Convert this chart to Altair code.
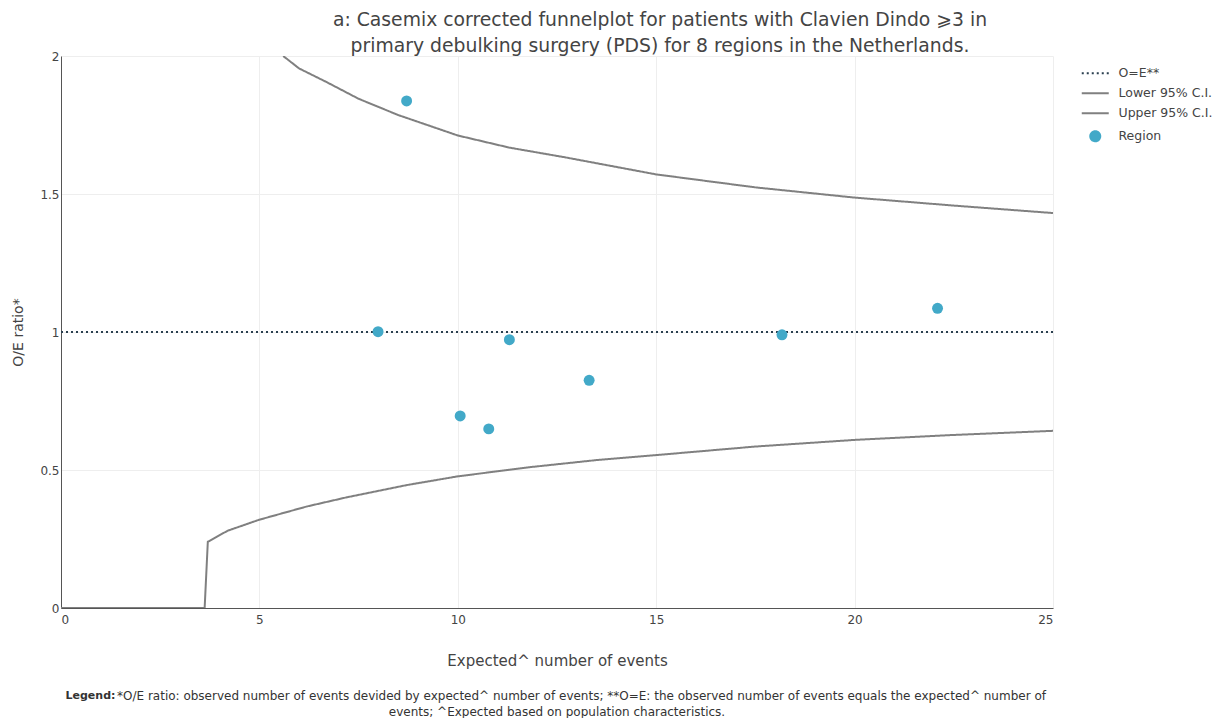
import altair as alt
import pandas as pd

# ---- data ----
series_names = ["O=E**", "Lower 95% C.I.", "Upper 95% C.I.", "Region"]

ref_x = [0.0, 25.0]
ref_y = [1.0, 1.0]

lower_x = [0.0, 3.62, 3.7, 4.2, 5.0, 6.2, 7.2, 8.7, 10.0, 11.8, 13.5, 15.0, 17.5, 20.0, 22.5, 25.0]
lower_y = [0.0, 0.0, 0.24, 0.28, 0.32, 0.368, 0.401, 0.445, 0.477, 0.51, 0.536, 0.554, 0.585, 0.609, 0.627, 0.642]

upper_x = [5.6, 6.0, 6.7, 7.5, 8.5, 10.0, 11.3, 12.7, 15.0, 17.5, 20.0, 22.5, 25.0]
upper_y = [2.0, 1.955, 1.905, 1.845, 1.786, 1.712, 1.668, 1.633, 1.571, 1.524, 1.487, 1.458, 1.431]

region_x = [7.99, 8.71, 10.06, 10.78, 11.30, 13.31, 18.17, 22.09]
region_y = [1.001, 1.837, 0.696, 0.649, 0.972, 0.825, 0.990, 1.086]

x_ticks = [0, 5, 10, 15, 20, 25]
y_ticks = [0, 0.5, 1, 1.5, 2]

title_lines = [
    "a: Casemix corrected funnelplot for patients with Clavien Dindo \u2a7e3 in",
    "primary debulking surgery (PDS) for 8 regions in the Netherlands.",
]
x_title = "Expected^ number of events"
y_title = "O/E ratio*"
foot_bold = "Legend:"
foot_line1 = ("*O/E ratio: observed number of events devided by expected^ number of events; "
              "**O=E: the observed number of events equals the expected^ number of")
foot_line2 = "events; ^Expected based on population characteristics."

# ---- tables ----
lines_df = pd.concat([
    pd.DataFrame({"x": ref_x, "y": ref_y, "series": series_names[0]}),
    pd.DataFrame({"x": lower_x, "y": lower_y, "series": series_names[1]}),
    pd.DataFrame({"x": upper_x, "y": upper_y, "series": series_names[2]}),
], ignore_index=True)
lines_df["ord"] = range(len(lines_df))
pts_df = pd.DataFrame({"x": region_x, "y": region_y, "series": series_names[3]})

W, H = 992, 552
grey_text = "#444444"
colors = ["#2a3f4f", "#808080", "#808080", "#42a9c8"]
line_sym = "M-2.7,0L2.7,0"

color_scale = alt.Scale(domain=series_names, range=colors)
legend = alt.Legend(title=None, orient="none", legendX=1028, legendY=11, labelFontSize=12.5,
                    labelColor=grey_text, labelFont="DejaVu Sans", symbolSize=100,
                    rowPadding=7, symbolStrokeWidth=2, labelOffset=17)

xenc = alt.X("x:Q", scale=alt.Scale(domain=[0, 25], nice=False, zero=False),
             axis=alt.Axis(values=x_ticks, title=x_title, grid=True, gridColor="#eeeeee",
                           ticks=False, domainColor="#555555", labelColor=grey_text,
                           labelFont="DejaVu Sans", labelFontSize=12, labelPadding=6,
                           titleFont="DejaVu Sans", titleFontSize=15,
                           titleFontWeight="normal", titleColor=grey_text, titlePadding=28))
yenc = alt.Y("y:Q", scale=alt.Scale(domain=[0, 2], nice=False),
             axis=alt.Axis(values=y_ticks, title=y_title, grid=True, gridColor="#eeeeee",
                           ticks=False, domainColor="#555555", labelColor=grey_text,
                           labelFont="DejaVu Sans", labelFontSize=12, labelPadding=2,
                           format="~g",
                           titleFont="DejaVu Sans", titleFontSize=14, titleFontWeight="normal",
                           titleColor=grey_text, titlePadding=14.5))

lines = alt.Chart(lines_df).mark_line(strokeWidth=2, clip=True).encode(
    x=xenc, y=yenc,
    color=alt.Color("series:N", scale=color_scale, legend=legend),
    strokeDash=alt.StrokeDash("series:N", scale=alt.Scale(domain=series_names,
                              range=[[2, 3], [1, 0], [1, 0], [1, 0]]), legend=legend),
    order="ord:Q",
)

points = alt.Chart(pts_df).mark_point(filled=True, size=120, opacity=1).encode(
    x="x:Q", y="y:Q",
    color=alt.Color("series:N", scale=color_scale, legend=legend),
    shape=alt.Shape("series:N", scale=alt.Scale(domain=series_names,
                    range=[line_sym, line_sym, line_sym, "circle"]), legend=legend),
)

foot_df = pd.DataFrame({"t": [0]})
foot_b = alt.Chart(foot_df).mark_text(text=foot_bold, font="DejaVu Sans", fontSize=11,
                                      fontWeight="bold", align="left", baseline="middle",
                                      color="#333333").encode(
    x=alt.value(4.5), y=alt.value(H + 88))
foot_1 = alt.Chart(foot_df).mark_text(text=foot_line1, font="DejaVu Sans", fontSize=12,
                                      align="left", baseline="middle",
                                      color="#333333").encode(
    x=alt.value(56), y=alt.value(H + 88))
foot_2 = alt.Chart(foot_df).mark_text(text=foot_line2, font="DejaVu Sans", fontSize=12,
                                      align="center", baseline="middle",
                                      color="#333333").encode(
    x=alt.value(496), y=alt.value(H + 104))

chart = alt.layer(lines, points, foot_b, foot_1, foot_2).properties(
    width=W, height=H,
    title=alt.TitleParams(text=title_lines, font="DejaVu Sans", fontSize=18.8,
                          fontWeight="normal", color=grey_text, anchor="middle",
                          dx=103, lineHeight=26, offset=-6),
    padding={"left": 3, "top": 3, "right": 5, "bottom": 0},
).configure_view(stroke=None)

chart.save("out.html", embed_options={"renderer": "svg", "actions": False})
